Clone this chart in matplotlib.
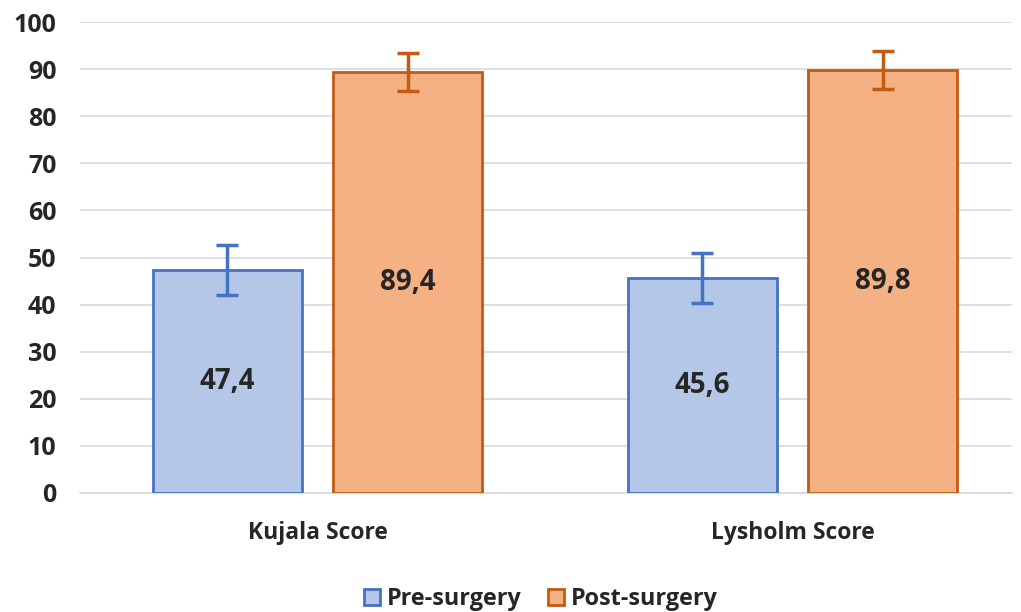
import numpy as np
import matplotlib.pyplot as plt
from matplotlib.patches import Patch

# data
categories = ["Kujala Score", "Lysholm Score"]
pre_values = [47.4, 45.6]
post_values = [89.4, 89.8]
pre_err = [5.3, 5.3]
post_err = [4.0, 4.1]

pre_fill, pre_edge = "#B4C7E7", "#4472C4"
post_fill, post_edge = "#F4B183", "#C55A11"

plt.rcParams["font.family"] = ["Open Sans", "DejaVu Sans"]
plt.rcParams["font.weight"] = "bold"

fig = plt.figure(figsize=(10.21, 6.12), dpi=100)
ax = fig.add_axes([80 / 1021, 119 / 612, (1012 - 80) / 1021, (493 - 22) / 612])

x = np.arange(len(categories))
w = 0.314
off = 0.19

ax.bar(x - off, pre_values, w, color=pre_fill, edgecolor=pre_edge, linewidth=2, zorder=3)
ax.bar(x + off, post_values, w, color=post_fill, edgecolor=post_edge, linewidth=2, zorder=3)
ax.errorbar(x - off, pre_values, yerr=pre_err, fmt="none", ecolor=pre_edge,
            elinewidth=2.5, capsize=8, capthick=2.5, zorder=4)
ax.errorbar(x + off, post_values, yerr=post_err, fmt="none", ecolor=post_edge,
            elinewidth=2.5, capsize=8, capthick=2.5, zorder=4)

# value labels in the middle of the bars
for xi, v in zip(x - off, pre_values):
    ax.text(xi, v / 2, f"{v:.1f}".replace(".", ","), ha="center", va="center",
            fontsize=20, fontweight="bold", color="#262626", zorder=5)
for xi, v in zip(x + off, post_values):
    ax.text(xi, v / 2, f"{v:.1f}".replace(".", ","), ha="center", va="center",
            fontsize=20, fontweight="bold", color="#262626", zorder=5)

ax.set_ylim(0, 100)
ax.set_xlim(-0.5, 1.462)
ax.set_yticks(range(0, 101, 10))
ax.set_xticks(x)
ax.set_xticklabels(categories)
ax.grid(axis="y", color="#D9D9D9", linewidth=1.2, zorder=0)
for s in ["top", "right", "left"]:
    ax.spines[s].set_visible(False)
ax.spines["bottom"].set_color("#D9D9D9")
ax.spines["bottom"].set_linewidth(1.2)
ax.tick_params(axis="y", length=0, pad=17, labelsize=18, labelcolor="#262626")
ax.tick_params(axis="x", length=0, pad=20, labelsize=16.5, labelcolor="#262626")
for lab in ax.get_xticklabels() + ax.get_yticklabels():
    lab.set_fontweight("bold")

handles = [Patch(facecolor=pre_fill, edgecolor=pre_edge, linewidth=2, label="Pre-surgery"),
           Patch(facecolor=post_fill, edgecolor=post_edge, linewidth=2, label="Post-surgery")]
fig.legend(handles=handles, loc="center", bbox_to_anchor=(541 / 1021, 1 - 599 / 612),
           ncol=2, frameon=False, prop={"size": 16.8, "weight": "bold"},
           handlelength=0.7, handleheight=0.7, handletextpad=0.3, columnspacing=1.1,
           labelcolor="#262626")

fig.savefig("out.png", dpi=100)
